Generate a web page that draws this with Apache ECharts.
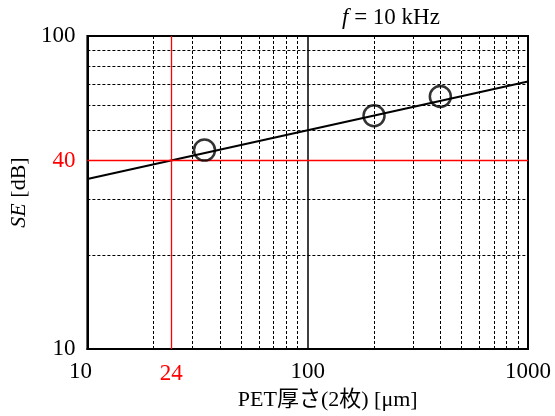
<!DOCTYPE html>
<html>
<head>
<meta charset="utf-8">
<script src="https://cdn.jsdelivr.net/npm/echarts@6/dist/echarts.min.js"></script>
<style>
  html, body { margin: 0; padding: 0; background: #fff; }
  #chart { width: 555px; height: 416px; }
</style>
</head>
<body>
<div id="chart"></div>
<script>
// 測定点
const thickness = [34, 200, 400];
const shielding = [43.2, 55.6, 64.1];
// 近似直線
const fitX = [10, 1000];
const fitY = [34.9, 71.6];
// 補助目盛線
const xGrid = [20, 30, 40, 50, 60, 70, 80, 90, 200, 300, 400, 500, 600, 700, 800, 900];
const yGrid = [20, 30, 50, 60, 70, 80, 90];
// 基準線 (赤)
const refX = 24;
const refY = 40;

const serif = "'Liberation Serif', 'Noto Sans CJK JP', serif";
const chart = echarts.init(document.getElementById("chart"));

const dashStyle = { color: "#000", width: 1, type: [3, 2] };

chart.setOption({
  animation: false,
  title: {
    text: "{i|f} = 10 kHz",
    left: 337,
    top: 1,
    textStyle: {
      fontFamily: serif,
      fontSize: 23,
      fontWeight: "normal",
      color: "#000",
      rich: { i: { fontStyle: "italic", fontFamily: serif, fontSize: 23 } },
    },
  },
  grid: {
    left: 85,
    right: 27,
    top: 36,
    bottom: 63,
    show: true,
    borderColor: "#000",
    borderWidth: 2,
  },
  xAxis: {
    type: "log",
    logBase: 10,
    min: 10,
    max: 1000,
    name: "PET厚さ(2枚) [μm]",
    nameLocation: "middle",
    nameGap: 40,
    nameTextStyle: {
      fontFamily: serif,
      fontSize: 22,
      color: "#000",
      padding: [0, 0, 0, 40],
    },
    axisLine: { lineStyle: { color: "#000", width: 2 } },
    axisTick: { show: false },
    axisLabel: {
      fontFamily: serif,
      fontSize: 23,
      color: "#000",
      margin: 11,
      // 左端の「10」だけ少し左へ
      formatter: (v) => (Math.round(v) === 10 ? "{m|10}" : String(Math.round(v))),
      rich: { m: { fontFamily: serif, fontSize: 23, color: "#000", padding: [0, 14, 0, 0] } },
    },
    splitLine: { show: true, lineStyle: { color: "#000", width: 1.5 } },
  },
  yAxis: {
    type: "log",
    logBase: 10,
    min: 10,
    max: 100,
    name: "{i|SE} [dB]",
    nameLocation: "middle",
    nameGap: 52,
    nameTextStyle: {
      fontFamily: serif,
      fontSize: 22,
      color: "#000",
      rich: { i: { fontStyle: "italic", fontFamily: serif, fontSize: 22 } },
    },
    axisLine: { lineStyle: { color: "#000", width: 2 } },
    axisTick: { show: false },
    axisLabel: {
      fontFamily: serif,
      fontSize: 23,
      color: "#000",
      margin: 12,
      formatter: (v) => String(Math.round(v)),
    },
    splitLine: { show: false },
  },
  series: [
    {
      // 破線グリッド
      type: "line",
      data: [],
      silent: true,
      markLine: {
        silent: true,
        symbol: "none",
        animation: false,
        label: { show: false },
        lineStyle: dashStyle,
        data: xGrid.map((v) => ({ xAxis: v })).concat(yGrid.map((v) => ({ yAxis: v }))),
      },
    },
    {
      // 赤の基準線
      type: "line",
      data: [],
      silent: true,
      z: 3,
      markLine: {
        silent: true,
        symbol: "none",
        animation: false,
        lineStyle: { color: "#ff0000", width: 1.3, type: "solid" },
        label: {
          show: true,
          position: "start",
          color: "#ff0000",
          fontFamily: serif,
          fontSize: 23,
          distance: 12,
        },
        data: [
          {
            xAxis: refX,
            lineStyle: { color: "#ff0000", width: 1.3, type: "solid" },
            label: { formatter: String(refX), distance: 13 },
          },
          { yAxis: refY, label: { formatter: String(refY) } },
        ],
      },
    },
    {
      type: "line",
      data: fitX.map((x, i) => [x, fitY[i]]),
      symbol: "none",
      lineStyle: { color: "#000", width: 2 },
      z: 4,
    },
    {
      type: "scatter",
      data: thickness.map((x, i) => [x, shielding[i]]),
      symbol: "circle",
      symbolSize: 21,
      itemStyle: { color: "rgba(0,0,0,0)", borderColor: "#000", borderWidth: 2.5 },
      z: 5,
    },
  ],
});
</script>
</body>
</html>
